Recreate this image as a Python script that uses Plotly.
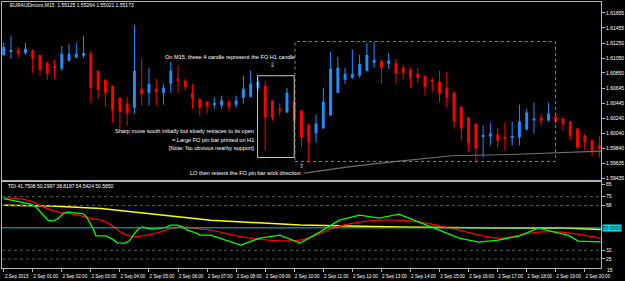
import plotly.graph_objects as go

# ---------------- data ----------------
opens = [1.61092,1.61133,1.61160,1.61119,1.61146,1.61092,1.60986,1.60932,1.60906,1.61013,
         1.61052,1.61079,1.61106,1.60879,1.60758,1.60678,1.60518,1.60438,1.60384,1.60638,
         1.60584,1.60638,1.60584,1.60705,1.60772,1.60745,1.60584,1.60504,1.60464,1.60424,
         1.60411,1.60464,1.60424,1.60518,1.60531,1.60651,1.60678,1.60478,1.60371,1.60317,
         1.60464,1.60344,1.60156,1.60036,1.60103,1.60277,1.60584,1.60758,1.60785,1.60812,
         1.60879,1.60986,1.61013,1.60973,1.60986,1.60919,1.60892,1.60839,1.60812,1.60758,
         1.60732,1.60651,1.60584,1.60397,1.60250,1.60170,1.59996,1.59996,1.60023,1.59983,
         1.59983,1.59983,1.60090,1.60210,1.60250,1.60210,1.60264,1.60237,1.60197,1.60103,
         1.60009,1.59943,1.59876]
highs = [1.61257,1.61347,1.61200,1.61253,1.61173,1.61092,1.60999,1.61026,1.61213,1.61240,
         1.61253,1.61347,1.61146,1.60879,1.60758,1.60678,1.60518,1.60531,1.61494,1.61039,
         1.60919,1.60772,1.60705,1.60999,1.60959,1.60772,1.60705,1.60504,1.60478,1.60518,
         1.60545,1.60491,1.60545,1.60812,1.60879,1.60785,1.60745,1.60478,1.60438,1.60651,
         1.60638,1.60344,1.60170,1.60290,1.60651,1.61133,1.61066,1.60919,1.61160,1.61092,
         1.61253,1.61267,1.61026,1.61119,1.61039,1.60959,1.60919,1.60919,1.60812,1.60785,
         1.60879,1.60866,1.60598,1.60397,1.60250,1.60170,1.60143,1.60183,1.60116,1.60183,
         1.60197,1.60424,1.60371,1.60451,1.60304,1.60451,1.60317,1.60250,1.60197,1.60116,
         1.60036,1.59956,1.60009]
lows = [1.61079,1.61039,1.61052,1.61092,1.60852,1.60812,1.60758,1.60772,1.60879,1.60999,
        1.61052,1.61052,1.60451,1.60504,1.60397,1.60183,1.60103,1.60143,1.60304,1.60411,
        1.60411,1.60411,1.60424,1.60584,1.60584,1.60611,1.60371,1.60277,1.60304,1.60371,
        1.60371,1.60344,1.60384,1.60438,1.60518,1.60611,1.59809,1.60210,1.60277,1.60317,
        1.60049,1.59849,1.59648,1.59916,1.60103,1.60277,1.60584,1.60705,1.60772,1.60785,
        1.60866,1.60919,1.60705,1.60906,1.60705,1.60772,1.60651,1.60718,1.60545,1.60598,
        1.60451,1.60384,1.60103,1.59943,1.59796,1.59648,1.59715,1.59876,1.59836,1.59809,
        1.59876,1.59876,1.60076,1.60036,1.60143,1.60197,1.60170,1.60076,1.59943,1.59822,
        1.59809,1.59729,1.59715]
closes = [1.61200,1.61146,1.61106,1.61173,1.61039,1.60892,1.60839,1.60919,1.61106,1.61106,
          1.61106,1.61119,1.60651,1.60624,1.60584,1.60344,1.60330,1.60304,1.60879,1.60571,
          1.60705,1.60598,1.60651,1.60879,1.60745,1.60665,1.60504,1.60384,1.60397,1.60438,
          1.60478,1.60397,1.60478,1.60638,1.60705,1.60732,1.60250,1.60250,1.60344,1.60584,
          1.60210,1.59983,1.59916,1.60170,1.60464,1.60906,1.60919,1.60839,1.60839,1.60973,
          1.61092,1.61026,1.60919,1.61013,1.60839,1.60852,1.60785,1.60785,1.60665,1.60732,
          1.60571,1.60518,1.60197,1.60103,1.59903,1.59836,1.60009,1.60036,1.59943,1.59969,
          1.59996,1.60197,1.60317,1.60237,1.60210,1.60304,1.60197,1.60156,1.60009,1.59849,
          1.59916,1.59809,1.59836]
bars = list(range(len(opens)))  # 15-minute bars from 2 Sep 00:00

tdi_green_k = [0,1.1,2.5,3.4,4.3,5.2,6.1,6.8,7.5,8.2,8.9,9.5,10.9,11.4,12.3,12.7,13.4,14.1,14.8,15.7,
               16.6,17.3,18.0,18.6,19.1,19.8,20.7,22.3,23.0,23.9,24.6,25.3,26.2,27.1,28.5,29.8,32.6,35.3,
               38.0,40.8,43.5,46.2,49.0,51.7,54.4,57.2,59.9,62.7,65.4,68.1,70.9,73.6,76.3,77.7,79.1,80.8,82.2]
tdi_green = [73.5,72.2,70.3,69.5,67.6,61.5,56.2,55.4,57.5,61.5,62.8,62.3,61.5,58.8,49.5,43.6,43.4,43.6,41.5,38.0,
             37.5,39.4,45.5,49.5,50.8,49.5,49.0,50.3,52.2,52.2,50.8,48.2,46.3,44.2,44.2,41.8,36.2,41.8,
             44.2,37.8,46.6,56.2,60.2,57.8,61.0,54.6,48.2,41.8,38.6,40.2,43.4,49.8,46.0,44.2,39.4,38.8,38.8]
tdi_red_k = [0,2.5,3.8,5.2,6.6,7.9,9.3,10.7,12.0,13.4,14.8,16.1,17.3,18.9,20.2,21.6,23.0,24.3,25.7,27.1,
             28.5,33.9,40.8,46.2,51.7,57.2,62.7,68.1,73.6,76.3,79.1,82.2]
tdi_red = [74.3,73.0,71.4,67.6,64.2,62.3,61.5,59.6,57.5,56.2,52.2,46.8,43.6,43.4,44.7,46.8,49.5,50.8,50.0,49.0,
           48.2,41.8,40.2,51.4,56.2,54.6,48.2,41.8,46.6,46.8,45.0,41.5]
tdi_yellow_k = [0,6.6,13.4,21.6,28.5,40.8,54.4,68.1,76.3,82.2]
tdi_yellow = [68.2,67.6,65.5,60.7,56.2,52.2,50.6,49.8,50.0,48.6]
tdi_levels = [75, 68, 32, 25]
tdi_mid = 50

trend_k = [41.4,47.2,53.1,58.5,61.7,69.9,76.0,77.7,82.35]
trend_p = [1.59505,1.59586,1.59652,1.59711,1.59738,1.59755,1.59778,1.59789,1.59800]

price_ticks = [1.61655,1.61455,1.61250,1.61050,1.60850,1.60645,1.60445,1.60240,1.60040,1.59840,1.59635,1.59435]
price_ticktext = ["%.5f" % v for v in price_ticks]
tdi_ticks = [85, 75, 68, 32, 25]
time_tick_bars = list(range(0, 81, 4))
time_ticktext = ["2 Sep 2015"] + ["2 Sep %02d:00" % h for h in range(1, 21)]

title_text = "EURAUDmicro,M15  1.55125 1.55264 1.55021 1.55173"
tdi_text = "TDI 41.7508 50.2997 38.8187 54.5424 50.5650"

# ---------------- figure ----------------
BLUE = "#1E90FF"
RED = "#FF0000"
FONT = "Liberation Sans"
fig = go.Figure()

for up, col in ((True, BLUE), (False, RED)):
    idx = [i for i in bars if (closes[i] >= opens[i]) == up]
    wx, wy = [], []
    for i in idx:
        wx += [bars[i], bars[i], None]
        wy += [highs[i], lows[i], None]
    fig.add_trace(go.Scatter(x=wx, y=wy, mode="lines", line=dict(color=col, width=1),
                             hoverinfo="skip", showlegend=False, xaxis="x", yaxis="y"))
    fig.add_trace(go.Bar(x=[bars[i] for i in idx],
                         y=[max(abs(closes[i] - opens[i]), 0.00009) for i in idx],
                         base=[min(opens[i], closes[i]) for i in idx],
                         width=0.4, marker=dict(color=col, line=dict(width=0)),
                         showlegend=False, xaxis="x", yaxis="y"))

fig.add_trace(go.Scatter(x=trend_k, y=trend_p, mode="lines", line=dict(color="#6e6e6e", width=1.2),
                         showlegend=False, xaxis="x", yaxis="y"))

# indicator
for lv in tdi_levels:
    fig.add_shape(type="line", xref="x2 domain", yref="y2", x0=0, x1=1, y0=lv, y1=lv,
                  line=dict(color="#5a5a5a", width=1, dash="dot"))
fig.add_shape(type="line", xref="x2 domain", yref="y2", x0=0, x1=1, y0=tdi_mid, y1=tdi_mid,
              line=dict(color="#00C8D2", width=1))
fig.add_trace(go.Scatter(x=tdi_yellow_k, y=tdi_yellow, mode="lines", line=dict(color="#FFFF00", width=1.5),
                         showlegend=False, xaxis="x2", yaxis="y2"))
fig.add_trace(go.Scatter(x=tdi_red_k, y=tdi_red, mode="lines", line=dict(color="#FF0000", width=1.3, shape="spline"),
                         showlegend=False, xaxis="x2", yaxis="y2"))
fig.add_trace(go.Scatter(x=tdi_green_k, y=tdi_green, mode="lines", line=dict(color="#00FF00", width=1.3),
                         showlegend=False, xaxis="x2", yaxis="y2"))

# boxes
fig.add_shape(type="rect", xref="x", yref="y", x0=34.95, x1=40.0, y0=1.59715, y1=1.60812,
              line=dict(color="#c8c8c8", width=1))
fig.add_shape(type="rect", xref="x", yref="y", x0=40.1, x1=75.96, y0=1.59662, y1=1.61271,
              line=dict(color="#6aa121", width=1, dash="dot"))

tf = dict(color="#ffffff", size=5.6, family=FONT)
ann = [
    dict(x=31.1, y=1.61066, text="On M15, these 4 candle represent the FO H1 candle", xanchor="center"),
    dict(x=37.0, y=1.60959, text="⇩", xanchor="center"),
    dict(x=34.8, y=1.60067, text="Sharp move south initially but slowly retraces to its open", xanchor="right"),
    dict(x=34.8, y=1.59956, text="= Large FO pin bar printed on H1", xanchor="right"),
    dict(x=34.8, y=1.59836, text="[Note: No obvious nearby support]", xanchor="right"),
    dict(x=41.0, y=1.59595, text="⇧", xanchor="center"),
    dict(x=41.2, y=1.59505, text="LO then retests the FO pin bar wick direction", xanchor="right"),
]
annotations = []
for a in ann:
    annotations.append(dict(xref="x", yref="y", showarrow=False, yanchor="middle", font=tf, **a))
annotations.append(dict(xref="paper", yref="paper", x=0.01, y=0.989, text=title_text, showarrow=False,
                        xanchor="left", yanchor="middle", font=dict(color="#ffffff", size=5, family=FONT)))
annotations.append(dict(xref="paper", yref="paper", x=0.006, y=0.31, text=tdi_text, showarrow=False,
                        xanchor="left", yanchor="middle", font=dict(color="#ffffff", size=5, family=FONT)))
annotations.append(dict(xref="paper", yref="y2", x=1.0, y=tdi_mid, text="50.0000", showarrow=False,
                        xanchor="left", yanchor="middle", xshift=1, bgcolor="#00E5EE",
                        font=dict(color="#000000", size=5, family=FONT), borderpad=0))
annotations.append(dict(xref="paper", yref="paper", x=1.0, y=-0.006, text="15", showarrow=False,
                        xanchor="left", yanchor="middle", xshift=4,
                        font=dict(color="#ffffff", size=5, family=FONT)))

AX = "#b4b4b4"
xr = [-0.2325, 82.23]
fig.update_layout(
    width=625, height=281, margin=dict(l=1, r=21, t=1, b=13),
    paper_bgcolor="#000000", plot_bgcolor="#000000",
    barmode="overlay", showlegend=False, annotations=annotations,
    xaxis=dict(domain=[0, 1], anchor="y", range=xr, showticklabels=False, showgrid=False, zeroline=False,
               showline=True, mirror=True, linecolor=AX, linewidth=1),
    xaxis2=dict(domain=[0, 1], anchor="y2", range=xr, matches="x", showgrid=False, zeroline=False,
                showline=True, mirror=True, linecolor=AX, linewidth=1,
                tickmode="array", tickvals=time_tick_bars, ticktext=time_ticktext, tickangle=0,
                ticks="outside", ticklen=3, tickcolor=AX, ticklabelshift=13, ticklabelstandoff=0,
                tickfont=dict(color="#ffffff", size=4.6, family=FONT)),
    yaxis=dict(domain=[0.3296, 1], anchor="x", side="right", range=[1.59408, 1.61802],
               showgrid=False, zeroline=False, showline=True, mirror=True, linecolor=AX, linewidth=1,
               tickmode="array", tickvals=price_ticks, ticktext=price_ticktext,
               ticks="outside", ticklen=3, tickcolor=AX,
               tickfont=dict(color="#ffffff", size=5, family=FONT)),
    yaxis2=dict(domain=[0, 0.3221], anchor="x2", side="right", range=[17.76, 86.56],
                showgrid=False, zeroline=False, showline=True, mirror=True, linecolor=AX, linewidth=1,
                tickmode="array", tickvals=tdi_ticks, ticktext=[str(t) for t in tdi_ticks],
                ticks="outside", ticklen=3, tickcolor=AX,
                tickfont=dict(color="#ffffff", size=5, family=FONT)),
)

fig.write_html("out.html")
